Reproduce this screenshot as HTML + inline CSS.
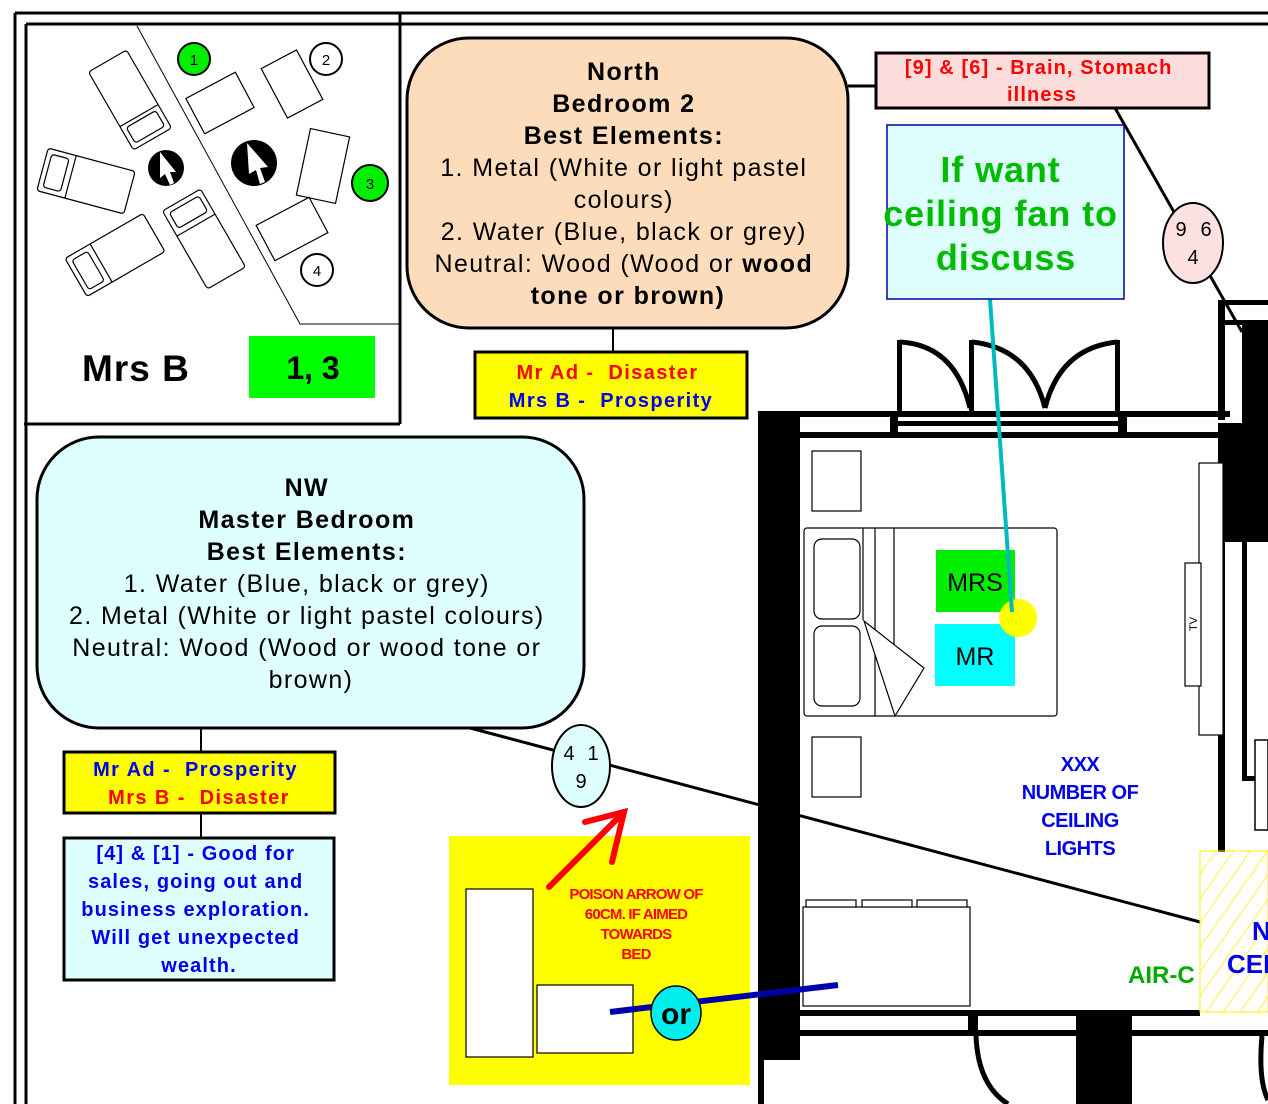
<!DOCTYPE html>
<html><head><meta charset="utf-8"><style>
html,body{margin:0;padding:0;background:#fff}
svg{display:block}
text{font-family:"Liberation Sans",Arial,sans-serif}
</style></head><body>
<svg width="1268" height="1104" viewBox="0 0 1268 1104" xmlns="http://www.w3.org/2000/svg">
<defs>
<pattern id="hatch" width="14" height="14" patternUnits="userSpaceOnUse" patternTransform="rotate(35)">
<line x1="0" y1="0" x2="0" y2="14" stroke="#ffee00" stroke-width="1.5"/>
</pattern>
</defs>
<!-- frame -->
<g stroke="#000" stroke-width="3" fill="none">
<line x1="15" y1="13" x2="1268" y2="13"/>
<line x1="26" y1="24" x2="1268" y2="24"/>
<line x1="15" y1="13" x2="15" y2="1104"/>
<line x1="26" y1="24" x2="26" y2="1104"/>
<line x1="400" y1="13" x2="400" y2="424"/>
<line x1="24" y1="424" x2="400" y2="424"/>
</g>
<!-- top-left inset -->
<polyline points="137,26 300,324 400,324" fill="none" stroke="#000" stroke-width="1"/>
<g fill="#fff" stroke="#000" stroke-width="1.2">
<g transform="translate(130,100) rotate(-30)"><rect x="-22" y="-45" width="44" height="90" rx="3"/><rect x="-17" y="22" width="34" height="18" rx="3"/><line x1="-22" y1="18" x2="22" y2="18"/></g>
<g transform="translate(86,181) rotate(-75)"><rect x="-22" y="-45" width="44" height="90" rx="3"/><rect x="-17" y="-40" width="34" height="18" rx="3"/><line x1="-22" y1="-16" x2="22" y2="-16"/></g>
<g transform="translate(115,255) rotate(-120)"><rect x="-22" y="-45" width="44" height="90" rx="3"/><rect x="-17" y="-40" width="34" height="18" rx="3"/><line x1="-22" y1="-16" x2="22" y2="-16"/></g>
<g transform="translate(204,239) rotate(-30)"><rect x="-22" y="-45" width="44" height="90" rx="3"/><rect x="-17" y="-40" width="34" height="18" rx="3"/><line x1="-22" y1="-16" x2="22" y2="-16"/></g>
<rect x="-28" y="-20" width="56" height="40" transform="translate(220,103) rotate(-28)"/>
<rect x="-20" y="-28" width="40" height="56" transform="translate(292,84) rotate(-28)"/>
<rect x="-20" y="-34" width="40" height="68" transform="translate(323,166) rotate(12)"/>
<rect x="-30" y="-20" width="60" height="40" transform="translate(292,229) rotate(-28)"/>
</g>
<circle cx="166" cy="168" r="18" fill="#000"/>
<polygon points="160,152 176,172 170,172 174,183 170,185 165,174 160,178" fill="#fff"/>
<circle cx="254" cy="163" r="23" fill="#000"/>
<polygon points="247,143 268,167 260,168 265,182 260,184 256,170 249,174" fill="#fff"/>
<circle cx="194" cy="59" r="16" fill="#00ee00" stroke="#000" stroke-width="2"/>
<text x="194" y="65" font-size="15" text-anchor="middle">1</text>
<circle cx="326" cy="59" r="16" fill="#fff" stroke="#000" stroke-width="2"/>
<text x="326" y="65" font-size="15" text-anchor="middle">2</text>
<circle cx="370" cy="183" r="18" fill="#00ee00" stroke="#000" stroke-width="2"/>
<text x="370" y="189" font-size="15" text-anchor="middle">3</text>
<circle cx="317" cy="270" r="16" fill="#fff" stroke="#000" stroke-width="2"/>
<text x="317" y="276" font-size="15" text-anchor="middle">4</text>
<text x="82" y="381" font-size="37" font-weight="bold" letter-spacing="1">Mrs B</text>
<rect x="249" y="336" width="126" height="62" fill="#00ff00"/>
<text x="313" y="379" font-size="32" font-weight="bold" text-anchor="middle">1, 3</text>

<!-- connectors -->
<line x1="470" y1="728" x2="1200" y2="922" stroke="#000" stroke-width="3"/>
<line x1="848" y1="86" x2="876" y2="86" stroke="#000" stroke-width="3"/>
<line x1="1115" y1="108" x2="1242" y2="332" stroke="#000" stroke-width="3"/>
<line x1="613" y1="328" x2="613" y2="351" stroke="#000" stroke-width="2"/>
<line x1="201" y1="728" x2="201" y2="838" stroke="#000" stroke-width="2"/>

<!-- floorplan walls -->
<g fill="#000">
<rect x="758" y="411" width="472" height="6"/>
<rect x="758" y="432" width="470" height="6"/>
<rect x="758" y="411" width="6" height="693"/>
<rect x="764" y="417" width="36" height="643"/>
<rect x="890" y="411" width="8" height="27"/>
<rect x="1118" y="411" width="9" height="27"/>
<rect x="898" y="421" width="220" height="5"/>
<rect x="897" y="340" width="5" height="73"/>
<rect x="969" y="340" width="5" height="73"/>
<rect x="1115" y="340" width="5" height="73"/>
<rect x="1218" y="300" width="7" height="120"/>
<rect x="1218" y="300" width="50" height="5"/>
<rect x="1225" y="320" width="43" height="5"/>
<rect x="1242" y="320" width="26" height="222"/>
<rect x="1218" y="423" width="50" height="119"/>
<rect x="1218" y="542" width="7" height="310"/>
<rect x="1242" y="542" width="5" height="238"/>
<rect x="1242" y="776" width="26" height="5"/>
<rect x="800" y="1010" width="400" height="6"/>
<rect x="800" y="1030" width="468" height="6"/>
<rect x="968" y="1016" width="10" height="14"/>
<rect x="1076" y="1016" width="56" height="88"/>
</g>
<g fill="none" stroke="#000" stroke-width="5">
<path d="M900,342 Q955,345 970,408"/>
<path d="M972,342 Q1030,348 1045,408"/>
<path d="M1117,342 Q1060,348 1045,408"/>
<path d="M976,1036 Q978,1085 1008,1104"/>
<path d="M1262,1036 Q1258,1080 1268,1100"/>
</g>
<rect x="1255" y="740" width="13" height="90" fill="#fff" stroke="#000" stroke-width="1.5"/>
<!-- room furniture -->
<g fill="#fff" stroke="#000" stroke-width="1.2">
<rect x="812" y="451" width="49" height="60"/>
<rect x="812" y="737" width="49" height="60"/>
<rect x="804" y="528" width="253" height="188" rx="3"/>
<rect x="814" y="539" width="46" height="80" rx="8"/>
<rect x="814" y="626" width="46" height="80" rx="8"/>
<line x1="863" y1="528" x2="863" y2="620"/>
<line x1="875" y1="528" x2="875" y2="716"/>
<line x1="894" y1="528" x2="894" y2="670"/>
<polygon points="864,621 924,668 895,716"/>
<rect x="1199" y="463" width="24" height="272"/>
<rect x="1185" y="563" width="16" height="123"/>
<rect x="803" y="907" width="167" height="99"/>
<rect x="806" y="900" width="50" height="7"/>
<rect x="862" y="900" width="50" height="7"/>
<rect x="917" y="900" width="50" height="7"/>
</g>
<text transform="translate(1197,624) rotate(-90)" font-size="11" text-anchor="middle">TV</text>
<rect x="936" y="550" width="79" height="62" fill="#00ee00"/>
<text x="975" y="591" font-size="25" text-anchor="middle">MRS</text>
<rect x="935" y="624" width="80" height="62" fill="#00ffff"/>
<text x="975" y="665" font-size="25" text-anchor="middle">MR</text>
<circle cx="1018" cy="618" r="19" fill="#ffff00"/>
<line x1="990" y1="299" x2="1012" y2="612" stroke="#00bbbb" stroke-width="4"/>

<text font-size="20" font-weight="bold" fill="#0000ee" text-anchor="middle" letter-spacing="-0.5">
<tspan x="1080" y="771">XXX</tspan><tspan x="1080" y="799">NUMBER OF</tspan><tspan x="1080" y="827">CEILING</tspan><tspan x="1080" y="855">LIGHTS</tspan></text>
<rect x="1200" y="851" width="68" height="161" fill="url(#hatch)" stroke="#ffee00" stroke-width="1"/>
<text x="1128" y="983" font-size="24" font-weight="bold" fill="#00aa00">AIR-C</text>
<text x="1252" y="940" font-size="26" font-weight="bold" fill="#0000ee">N</text>
<text x="1227" y="973" font-size="26" font-weight="bold" fill="#0000ee">CEI</text>

<!-- yellow poison area -->
<rect x="449" y="836" width="301" height="249" fill="#ffff00"/>
<g fill="#fff" stroke="#000" stroke-width="1.2">
<rect x="466" y="889" width="67" height="168"/>
<rect x="537" y="985" width="96" height="68"/>
</g>
<line x1="610" y1="1012" x2="838" y2="985" stroke="#0000aa" stroke-width="6"/>
<ellipse cx="676" cy="1013" rx="25" ry="27" fill="#00eeee" stroke="#000" stroke-width="1.5"/>
<text x="676" y="1024" font-size="30" font-weight="bold" text-anchor="middle">or</text>
<g stroke="#ff0000" stroke-width="6" fill="none" stroke-linecap="round">
<line x1="549" y1="887" x2="624" y2="812"/>
<polyline points="585,822 624,812 612,862"/>
</g>
<text font-size="15" font-weight="bold" fill="#ff0000" text-anchor="middle" letter-spacing="-0.8">
<tspan x="636" y="899">POISON ARROW OF</tspan><tspan x="636" y="919">60CM. IF AIMED</tspan><tspan x="636" y="939">TOWARDS</tspan><tspan x="636" y="959">BED</tspan></text>

<!-- ellipses -->
<ellipse cx="581" cy="766" rx="29" ry="41" fill="#dfffff" stroke="#000" stroke-width="2"/>
<text x="569" y="760" font-size="20" text-anchor="middle">4</text>
<text x="593" y="760" font-size="20" text-anchor="middle">1</text>
<text x="581" y="788" font-size="20" text-anchor="middle">9</text>
<ellipse cx="1193" cy="243" rx="30" ry="40" fill="#fde0e0" stroke="#000" stroke-width="2"/>
<text x="1181" y="236" font-size="20" text-anchor="middle">9</text>
<text x="1206" y="236" font-size="20" text-anchor="middle">6</text>
<text x="1193" y="264" font-size="20" text-anchor="middle">4</text>

<!-- North box -->
<rect x="407" y="38" width="441" height="290" rx="62" fill="#fddcbc" stroke="#000" stroke-width="3"/>
<text font-size="25" text-anchor="middle" fill="#000" letter-spacing="1.4">
<tspan x="628" y="80" font-weight="bold">North</tspan>
<tspan x="628" y="112" font-weight="bold">Bedroom 2</tspan>
<tspan x="628" y="144" font-weight="bold">Best Elements:</tspan>
<tspan x="628" y="176">1. Metal (White or light pastel</tspan>
<tspan x="628" y="208">colours)</tspan>
<tspan x="628" y="240">2. Water (Blue, black or grey)</tspan>
<tspan x="628" y="272">Neutral: Wood (Wood or <tspan font-weight="bold">wood</tspan></tspan>
<tspan x="628" y="304" font-weight="bold">tone or brown)</tspan>
</text>
<rect x="475" y="352" width="272" height="66" fill="#ffff00" stroke="#000" stroke-width="3"/>
<text font-size="20" font-weight="bold" text-anchor="middle" letter-spacing="1.4" xml:space="preserve">
<tspan x="611" y="379" fill="#ff0000">Mr Ad -  Disaster</tspan>
<tspan x="611" y="407" fill="#0000ee">Mrs B -  Prosperity</tspan></text>

<rect x="876" y="53" width="333" height="55" fill="#fddcdc" stroke="#000" stroke-width="3"/>
<text font-size="20" font-weight="bold" fill="#ff0000" text-anchor="middle" letter-spacing="1.1">
<tspan x="1042" y="74">[9] &amp; [6] - Brain, Stomach</tspan>
<tspan x="1042" y="101">illness</tspan></text>

<rect x="887" y="125" width="237" height="174" fill="#dfffff" stroke="#0000aa" stroke-width="1.5"/>
<text font-size="36" font-weight="bold" fill="#00bb00" text-anchor="middle" letter-spacing="0.9">
<tspan x="1006" y="182">If want</tspan>
<tspan x="1006" y="226">ceiling fan to</tspan>
<tspan x="1006" y="270">discuss</tspan></text>

<!-- NW box -->
<rect x="37" y="437" width="547" height="291" rx="62" fill="#dfffff" stroke="#000" stroke-width="3"/>
<text font-size="25" text-anchor="middle" fill="#000" letter-spacing="1.4">
<tspan x="311" y="496" font-weight="bold">NW</tspan>
<tspan x="311" y="528" font-weight="bold">Master Bedroom</tspan>
<tspan x="311" y="560" font-weight="bold">Best Elements:</tspan>
<tspan x="311" y="592">1. Water (Blue, black or grey)</tspan>
<tspan x="311" y="624">2. Metal (White or light pastel colours)</tspan>
<tspan x="311" y="656">Neutral: Wood (Wood or wood tone or</tspan>
<tspan x="311" y="688">brown)</tspan>
</text>
<rect x="64" y="752" width="271" height="61" fill="#ffff00" stroke="#000" stroke-width="3"/>
<text font-size="20" font-weight="bold" text-anchor="middle" letter-spacing="1.4" xml:space="preserve">
<tspan x="199" y="776" fill="#0000ee">Mr Ad -  Prosperity</tspan>
<tspan x="199" y="804" fill="#ff0000">Mrs B -  Disaster</tspan></text>
<rect x="64" y="838" width="270" height="142" fill="#dfffff" stroke="#000" stroke-width="3"/>
<text font-size="20" font-weight="bold" fill="#0000ee" text-anchor="middle" letter-spacing="1.1">
<tspan x="199" y="860">[4] &amp; [1] - Good for</tspan>
<tspan x="199" y="888">sales, going out and</tspan>
<tspan x="199" y="916">business exploration.</tspan>
<tspan x="199" y="944">Will get unexpected</tspan>
<tspan x="199" y="972">wealth.</tspan></text>
</svg>
</body></html>
